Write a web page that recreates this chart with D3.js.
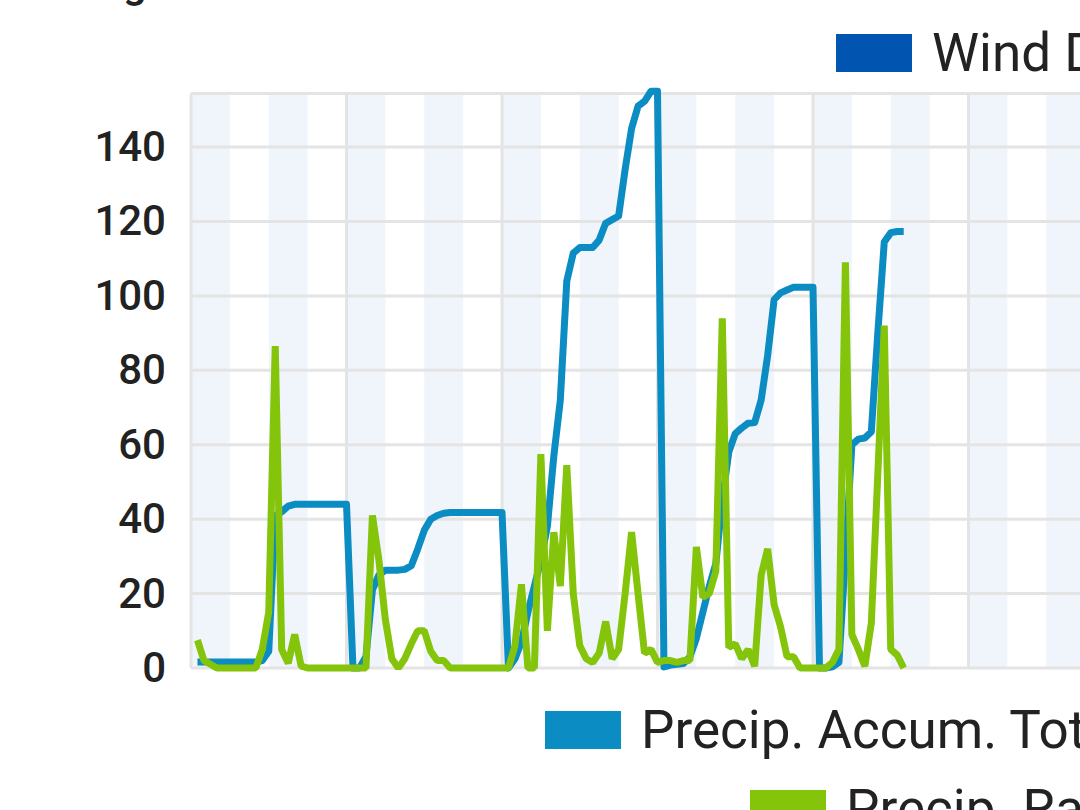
<!DOCTYPE html>
<html lang="en">
<head>
    <meta charset="UTF-8">
    <title>Precipitation</title>
    <style>
        body,
        html {
            margin: 0;
            padding: 0;
            background: #fff;
        }
        svg {
            display: block;
            font-family: Roboto, "Noto Sans", sans-serif;
        }
    </style>
    <script src="https://d3js.org/d3.v7.min.js"></script>
</head>
<body>
<div id="chart"></div>
<script>
    // hourly samples, hour 0 = left edge of the plot
    const hours = d3.range(1, 111);

    const accumTotal = [
        1.6, 1.6, 1.6, 1.6, 1.6, 1.6, 1.6, 1.6, 1.6, 1.6,
        2, 4.5, 41, 42, 43.5, 44, 44, 44, 44, 44, 44, 44, 44, 44,
        0, 0, 3, 21, 25, 26.3, 26.3, 26.3, 26.5, 27.5, 32, 37, 40, 41, 41.6,
        41.8, 41.8, 41.8, 41.8, 41.8, 41.8, 41.8, 41.8, 41.8,
        0, 2.5, 7, 15, 22, 29, 38, 57, 72, 104, 111.5, 113, 113, 113, 115,
        119.5, 120.5, 121.5, 134, 145, 151, 152.3, 155, 155,
        0.3, 0.8, 1, 1.2, 3, 8, 15, 22, 28, 45, 58, 63, 64.5, 65.8, 66,
        72, 84, 99, 100.8, 101.6, 102.3, 102.3, 102.3, 102.3,
        0, 0, 0.3, 1.5, 30, 60, 61.5, 61.8, 63.5, 90, 114.5, 117, 117.3, 117.3
    ];

    const precipRate = [
        7.5, 2, 1, 0, 0, 0, 0, 0, 0, 0,
        5, 15, 86.5, 5, 1.3, 9, 0.5,
        0, 0, 0, 0, 0, 0, 0, 0, 0, 0,
        41, 29, 13, 2.5, 0, 2.5, 6.5, 10, 10, 4.5, 2, 2,
        0, 0, 0, 0, 0, 0, 0, 0, 0, 0,
        6, 22.5, 0, 0, 57.5, 10, 36.5, 22, 54.5, 20, 6, 2.5, 1.5, 4, 12.5,
        2.5, 5, 20, 36.5, 20, 4, 5, 1.5, 2, 2, 1.5, 2, 2,
        32.5, 19, 20, 26, 94, 5.5, 6.5, 2.5, 5, 0.5, 25, 32, 17, 11, 3, 3,
        0, 0, 0, 0, 0,
        1.5, 5, 109, 9, 5, 0.5, 12, 52, 92, 5, 3.5, 0
    ];

    const yTicks = [0, 20, 40, 60, 80, 100, 120, 140];
    const seriesNames = ["Wind Direction", "Precip. Accum. Total", "Precip. Rate"];
    const seriesColors = ["#0254b1", "#0b8cc2", "#84c40b"];

    (function () {
        const width = 1080, height = 810;
        const plotLeft = 191, plotBottom = 668, plotTop = 93.5;
        const dayPx = 155.5;

        const x = d3.scaleLinear().domain([0, 144]).range([plotLeft, plotLeft + 6 * dayPx]);
        const y = d3.scaleLinear().domain([0, 154.4]).range([plotBottom, plotTop]);

        const svg = d3.select('#chart').append('svg')
            .attr('width', width).attr('height', height);

        // 6 hour shading
        svg.append('g').selectAll('rect')
            .data(d3.range(0, 144, 12))
            .enter().append('rect')
            .attr('x', d => x(d))
            .attr('y', plotTop)
            .attr('width', d => x(d + 6) - x(d))
            .attr('height', plotBottom - plotTop)
            .attr('fill', '#eff5fa');

        // grid
        const grid = svg.append('g')
            .attr('stroke', '#e4e4e4')
            .attr('stroke-width', 3);
        grid.selectAll('.h')
            .data(yTicks.concat([154.4]))
            .enter().append('line')
            .attr('x1', plotLeft).attr('x2', x(144))
            .attr('y1', d => y(d)).attr('y2', d => y(d));
        grid.selectAll('.v')
            .data(d3.range(0, 145, 24))
            .enter().append('line')
            .attr('x1', d => x(d)).attr('x2', d => x(d))
            .attr('y1', plotTop).attr('y2', plotBottom);

        const line = d3.line()
            .x((d, i) => x(hours[i]))
            .y(d => y(d));

        svg.append('path')
            .datum(accumTotal)
            .attr('d', line)
            .attr('fill', 'none')
            .attr('stroke', seriesColors[1])
            .attr('stroke-width', 7)
            .attr('stroke-linejoin', 'round');

        svg.append('path')
            .datum(precipRate)
            .attr('d', line)
            .attr('fill', 'none')
            .attr('stroke', seriesColors[2])
            .attr('stroke-width', 7)
            .attr('stroke-linejoin', 'bevel');

        // y axis labels
        const yAxis = svg.append('g')
            .attr('transform', `translate(${plotLeft},0)`)
            .call(d3.axisLeft(y).tickValues(yTicks).tickSize(0).tickPadding(25));
        yAxis.select('.domain').remove();
        yAxis.selectAll('text')
            .attr('font-family', 'Roboto, sans-serif')
            .attr('font-size', 42)
            .attr('font-weight', 500)
            .attr('fill', '#222');

        // remnant of the cropped label above the axis
        svg.append('text')
            .attr('x', 135).attr('y', -3)
            .attr('text-anchor', 'middle')
            .attr('font-size', 42)
            .attr('font-weight', 500)
            .attr('fill', '#222')
            .text('g');

        // legend rows
        const legendPos = [[836, 34], [545, 711], [750, 790]];
        const legend = svg.append('g').selectAll('g')
            .data(seriesNames)
            .enter().append('g')
            .attr('transform', (d, i) => `translate(${legendPos[i][0]},${legendPos[i][1]})`);
        legend.append('rect')
            .attr('width', 76).attr('height', 38)
            .attr('fill', (d, i) => seriesColors[i]);
        legend.append('text')
            .attr('x', 96).attr('y', 37)
            .attr('font-size', 53)
            .attr('fill', '#222')
            .text(d => d);
    }());
</script>
</body>
</html>
